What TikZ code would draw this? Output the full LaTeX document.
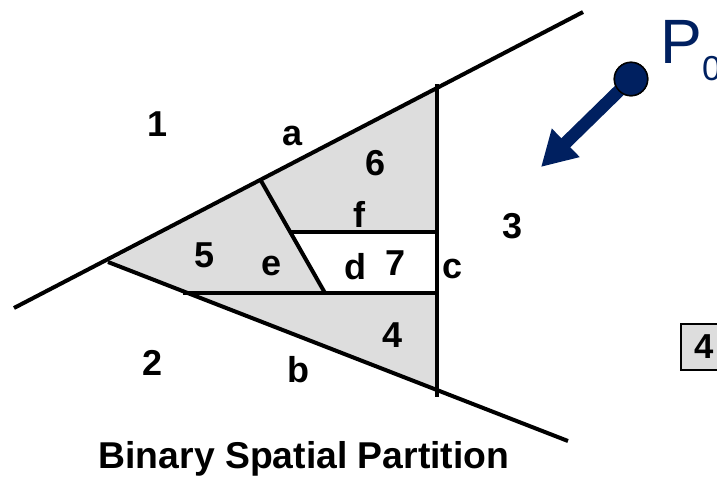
\documentclass[tikz,border=0pt]{standalone}
\usepackage{fontspec}
\setmainfont{Liberation Sans}
\usetikzlibrary{arrows.meta, calc}
\definecolor{cellfill}{RGB}{221,221,221}
\definecolor{viewblue}{RGB}{0,32,96}
\tikzset{
  splitline/.style={draw=black, line width=3pt},
  celllabel/.style={
    font=\bfseries\fontsize{27}{27}\selectfont,
    anchor=base, inner sep=0pt
  },
  viewarrow/.style={
    -{Triangle[length=26pt, width=28pt]}, draw=viewblue, fill=viewblue,
    line width=9.5pt
  },
  viewpoint/.style={
    circle, draw=black, line width=1.1pt, fill=viewblue,
    minimum size=25pt, inner sep=0pt
  },
  listbox/.style={
    rectangle, draw=black, line width=1.3pt, fill=cellfill,
    minimum height=35pt, inner xsep=10pt,
    font=\bfseries\fontsize{26}{26}\selectfont
  }
}

\begin{document}
\begin{tikzpicture}[x=0.75pt, y=-0.75pt]
  \useasboundingbox (0,0) rectangle (717,476);

  % splitting planes
  \coordinate (aL) at (14,308);
  \coordinate (aR) at (583,12);
  \coordinate (apex) at (108,262);
  \coordinate (bR) at (568,441);
  \coordinate (cTop) at (437,84);
  \coordinate (cBot) at (437,397);
  \coordinate (ac) at (437,89);
  \coordinate (bc) at (437,389);
  \coordinate (eTop) at (260,179);
  \coordinate (eBot) at (325,293);
  \coordinate (fL) at (290,232);
  \coordinate (fR) at (437,232);
  \coordinate (dL) at (183,293);
  \coordinate (dR) at (437,293);

  % shaded cells
  \fill[cellfill] (apex) -- (ac) -- (bc) -- cycle;
  \fill[white] (fL) -- (fR) -- (dR) -- (eBot) -- cycle;

  \draw[splitline] (aL) -- (aR);
  \draw[splitline] (apex) -- (bR);
  \draw[splitline] (cTop) -- (cBot);
  \draw[splitline] (eTop) -- (eBot);
  \draw[splitline] (fL) -- (fR);
  \draw[splitline] (dL) -- (dR);

  % labels
  \node[celllabel] (r1) at (158,136) {1};
  \node[celllabel] (la) at (293,145) {a};
  \node[celllabel] (r6) at (376,175) {6};
  \node[celllabel] (lf) at (359,227) {f};
  \node[celllabel] (r3) at (513,238) {3};
  \node[celllabel] (r5) at (205,267) {5};
  \node[celllabel] (le) at (272,275) {e};
  \node[celllabel] (ld) at (355,279) {d};
  \node[celllabel] (r7) at (396,275) {7};
  \node[celllabel] (lc) at (453,278) {c};
  \node[celllabel] (r4) at (393,347) {4};
  \node[celllabel] (r2) at (153,375) {2};
  \node[celllabel] (lb) at (298,382) {b};

  \node[anchor=base, inner sep=0pt, font=\bfseries\fontsize{28}{28}\selectfont]
    (title) at (304,468) {Binary Spatial Partition};

  % viewpoint
  \node[viewpoint] (p0) at (631,79) {};
  \coordinate (tip) at (541,167);
  \draw[viewarrow] (p0.center) -- (tip);
  \node[viewpoint] at (p0) {};
  \node[anchor=base west, inner sep=0pt, text=viewblue] (plabel) at (660,63)
    {\fontsize{47}{47}\selectfont P\raisebox{-13pt}{\fontsize{26}{26}\selectfont 0}};

  \node[listbox, anchor=west] (list) at (680,347) {4};
\end{tikzpicture}
\end{document}
